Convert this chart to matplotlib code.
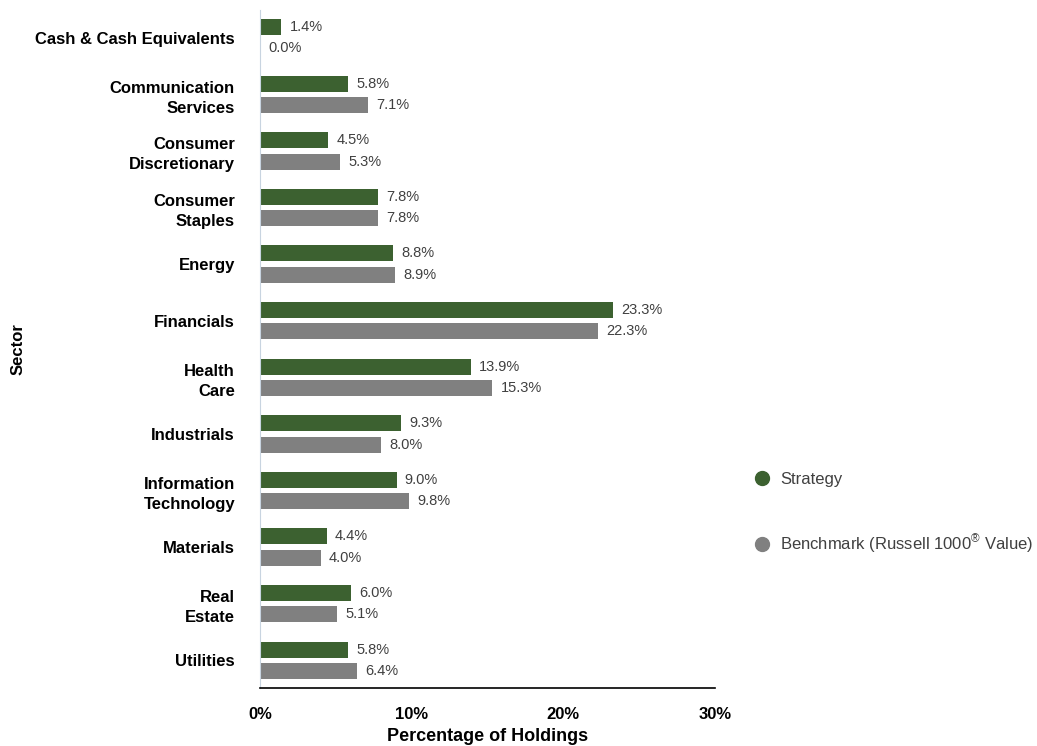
import matplotlib
matplotlib.use("Agg")
import matplotlib.pyplot as plt
from matplotlib.lines import Line2D
import numpy as np

categories = ["Cash & Cash Equivalents", "Communication\nServices", "Consumer\nDiscretionary",
              "Consumer\nStaples", "Energy", "Financials", "Health\nCare", "Industrials",
              "Information\nTechnology", "Materials", "Real\nEstate", "Utilities"]
strategy = [1.4, 5.8, 4.5, 7.8, 8.8, 23.3, 13.9, 9.3, 9.0, 4.4, 6.0, 5.8]
benchmark = [0.0, 7.1, 5.3, 7.8, 8.9, 22.3, 15.3, 8.0, 9.8, 4.0, 5.1, 6.4]
xticks = [0, 10, 20, 30]
xticklabels = ["0%", "10%", "20%", "30%"]
series_names = ["Strategy", "Benchmark (Russell 1000$^{\\circledR}$ Value)"]

plt.rcParams['font.family'] = ['Liberation Sans', 'DejaVu Sans']
plt.rcParams['mathtext.fontset'] = 'custom'
plt.rcParams['mathtext.rm'] = 'Liberation Sans'

GREEN = "#3c6130"
GRAY = "#808080"
TXT = "#404040"

fig = plt.figure(figsize=(10.37, 7.46), dpi=100)
ax = fig.add_axes([260/1037, 58/746, 455/1037, 678/746])

y = np.arange(len(categories))
h = 0.283
off = 0.19
ax.barh(y - off, strategy, height=h, color=GREEN)
ax.barh(y + off, benchmark, height=h, color=GRAY)

for i, (s, b) in enumerate(zip(strategy, benchmark)):
    ax.annotate(f"{s:.1f}%", (s, i - off), xytext=(6, 0), textcoords="offset points",
                va="center", ha="left", fontsize=10.5, color=TXT)
    ax.annotate(f"{b:.1f}%", (b, i + off), xytext=(6, 0), textcoords="offset points",
                va="center", ha="left", fontsize=10.5, color=TXT)

ax.set_xlim(0, 30)
ax.set_ylim(11.49, -0.49)
ax.set_yticks(y)
ax.set_yticklabels(categories, fontsize=12, fontweight="bold", ha="right",
                   multialignment="right", color="black", linespacing=1.4)
ax.set_xticks(xticks)
ax.set_xticklabels(xticklabels, fontsize=12, fontweight="bold", color="black")
ax.tick_params(axis="y", length=0, pad=18)
ax.tick_params(axis="x", length=0, pad=14)

ax.spines["top"].set_visible(False)
ax.spines["right"].set_visible(False)
ax.spines["left"].set_color("#c8d4e0")
ax.spines["bottom"].set_color("black")
ax.spines["bottom"].set_linewidth(1.2)

ax.set_xlabel("Percentage of Holdings", fontsize=13, fontweight="bold", labelpad=4)
fig.text(18/1037, 1 - 349/746, "Sector", rotation=90, fontsize=12, fontweight="bold",
         ha="center", va="center")

handles = [Line2D([], [], marker="o", linestyle="none", markersize=10, color=GREEN),
           Line2D([], [], marker="o", linestyle="none", markersize=10, color=GRAY)]
leg = fig.legend(handles, series_names, loc="upper left", bbox_to_anchor=(747/1037, 1 - 467/746),
                 frameon=False, fontsize=12, labelspacing=2.72, handletextpad=0.5,
                 handlelength=1.2, borderaxespad=0, borderpad=0.3, labelcolor=TXT)

fig.savefig("out.png", dpi=100)
